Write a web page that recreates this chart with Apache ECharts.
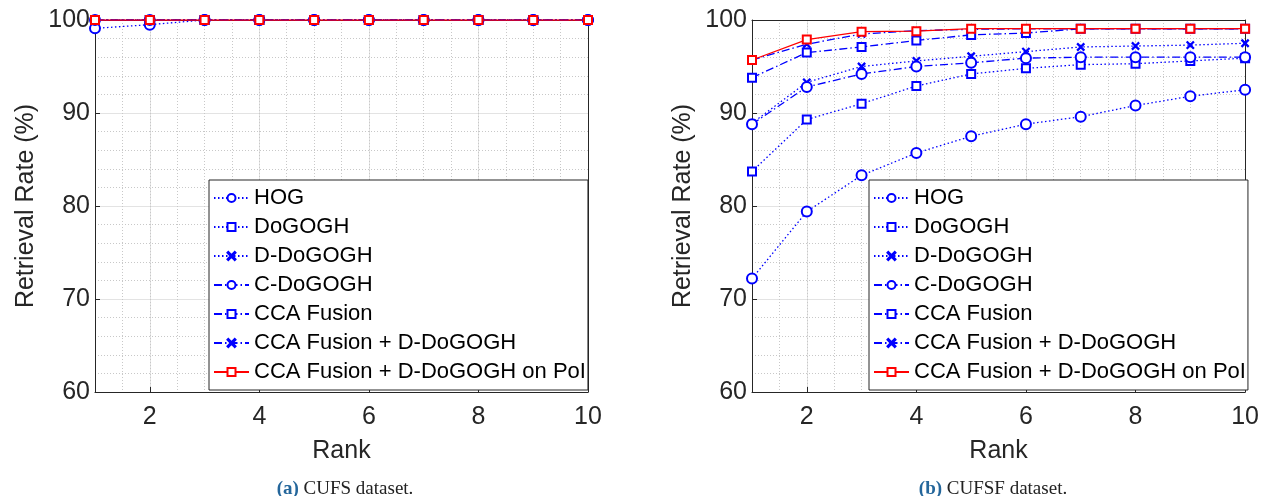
<!DOCTYPE html>
<html lang="en">
<head>
    <meta charset="UTF-8">
    <title>Retrieval rate vs rank</title>
    <script src="https://cdn.jsdelivr.net/npm/echarts@6/dist/echarts.min.js"></script>
    <style>
        html, body { margin: 0; padding: 0; background: #fff; }
    </style>
</head>
<body>

<div id="wrap" style="width: 1262px; height: 496px;"></div>

<script>
    var ranks = [1, 2, 3, 4, 5, 6, 7, 8, 9, 10];
    var names = ['HOG', 'DoGOGH', 'D-DoGOGH', 'C-DoGOGH', 'CCA Fusion',
        'CCA Fusion + D-DoGOGH', 'CCA Fusion + D-DoGOGH on PoI'];

    // (a) CUFS
    var cufsHog      = [99.1, 99.5, 100, 100, 100, 100, 100, 100, 100, 100];
    var cufsDogogh   = [100, 100, 100, 100, 100, 100, 100, 100, 100, 100];
    var cufsDDogogh  = [100, 100, 100, 100, 100, 100, 100, 100, 100, 100];
    var cufsCDogogh  = [100, 100, 100, 100, 100, 100, 100, 100, 100, 100];
    var cufsCca      = [100, 100, 100, 100, 100, 100, 100, 100, 100, 100];
    var cufsCcaD     = [100, 100, 100, 100, 100, 100, 100, 100, 100, 100];
    var cufsCcaDPoi  = [100, 100, 100, 100, 100, 100, 100, 100, 100, 100];

    // (b) CUFSF
    var cufsfHog     = [72.2, 79.4, 83.3, 85.7, 87.5, 88.8, 89.6, 90.8, 91.8, 92.5];
    var cufsfDogogh  = [83.7, 89.3, 91.0, 92.9, 94.2, 94.8, 95.2, 95.3, 95.6, 95.9];
    var cufsfDDogogh = [88.9, 93.3, 95.0, 95.6, 96.1, 96.6, 97.1, 97.2, 97.3, 97.5];
    var cufsfCDogogh = [88.8, 92.8, 94.2, 95.0, 95.4, 95.9, 96.0, 96.0, 96.0, 96.0];
    var cufsfCca     = [93.8, 96.5, 97.1, 97.8, 98.4, 98.6, 99.05, 99.05, 99.05, 99.05];
    var cufsfCcaD    = [95.7, 97.4, 98.5, 98.85, 99.0, 99.05, 99.05, 99.05, 99.05, 99.05];
    var cufsfCcaDPoi = [95.7, 97.9, 98.75, 98.8, 99.07, 99.07, 99.07, 99.07, 99.07, 99.07];

    var yTicks = [60, 70, 80, 90, 100];

    var BLUE = '#0000ff';
    var RED = '#ff0000';
    var INK = '#262626';
    var crossPath = 'path://M0,1L1,0L5,4L9,0L10,1L6,5L10,9L9,10L5,6L1,10L0,9L4,5Z';
    var dotted = [1.5, 2.5];
    var dashDot = [8, 3, 1.5, 3];

    var styles = [
        {color: BLUE, dash: dotted, symbol: 'emptyCircle', size: 10},
        {color: BLUE, dash: dotted, symbol: 'emptyRect', size: 8},
        {color: BLUE, dash: dotted, symbol: crossPath, size: 7},
        {color: BLUE, dash: dashDot, symbol: 'emptyCircle', size: 10},
        {color: BLUE, dash: dashDot, symbol: 'emptyRect', size: 8},
        {color: BLUE, dash: dashDot, symbol: crossPath, size: 7},
        {color: RED, dash: 'solid', symbol: 'emptyRect', size: 8}
    ];

    function pairs(vals) {
        return ranks.map(function (r, i) { return [r, vals[i]]; });
    }

    function makeSeries(sets, idx) {
        return sets.map(function (vals, k) {
            var s = styles[k];
            return {
                name: names[k],
                type: 'line',
                xAxisIndex: idx * 2,
                yAxisIndex: idx * 2,
                data: pairs(vals),
                symbol: s.symbol,
                symbolSize: s.size,
                showAllSymbol: true,
                lineStyle: {color: s.color, width: 1.3, type: s.dash},
                itemStyle: {color: s.color, borderColor: s.color, borderWidth: 1.3},
                z: 3 + k
            };
        });
    }

    function xAxes(gi) {
        return [{
            gridIndex: gi,
            type: 'value',
            min: 1,
            max: 10,
            splitNumber: 5,
            position: 'bottom',
            name: 'Rank',
            nameLocation: 'middle',
            nameGap: 47,
            nameTextStyle: {fontSize: 25, color: INK, fontFamily: 'Liberation Sans'},
            axisLine: {show: true, lineStyle: {color: INK, width: 1}},
            axisTick: {show: true, inside: true, length: 5, lineStyle: {color: INK}},
            axisLabel: {
                fontSize: 25, color: INK, fontFamily: 'Liberation Sans', margin: 13,
                showMinLabel: false,
                formatter: function (v) { return v % 2 === 0 ? String(v) : ''; }
            },
            splitLine: {show: true, lineStyle: {color: '#e3e3e3', width: 1}}
        }, {
            gridIndex: gi,
            type: 'value',
            min: 1,
            max: 10,
            interval: 0.5,
            position: 'top',
            axisLine: {show: true, lineStyle: {color: INK, width: 1}},
            axisTick: {show: false},
            axisLabel: {show: false},
            splitLine: {show: true, lineStyle: {color: '#c8c8c8', width: 1, type: [1, 2]}}
        }];
    }

    function yAxes(gi) {
        return [{
            gridIndex: gi,
            type: 'value',
            min: yTicks[0],
            max: yTicks[yTicks.length - 1],
            interval: 10,
            position: 'left',
            name: 'Retrieval Rate (%)',
            nameLocation: 'middle',
            nameGap: 56,
            nameTextStyle: {fontSize: 25, color: INK, fontFamily: 'Liberation Sans'},
            axisLine: {show: true, lineStyle: {color: INK, width: 1}},
            axisTick: {show: true, inside: true, length: 5, lineStyle: {color: INK}},
            axisLabel: {fontSize: 25, color: INK, fontFamily: 'Liberation Sans', margin: 5},
            splitLine: {show: true, lineStyle: {color: '#e3e3e3', width: 1}},
            minorTick: {show: false, splitNumber: 5},
            minorSplitLine: {show: true, lineStyle: {color: '#c8c8c8', width: 1, type: [1, 2]}}
        }, {
            gridIndex: gi,
            type: 'value',
            min: yTicks[0],
            max: yTicks[yTicks.length - 1],
            interval: 10,
            position: 'right',
            axisLine: {show: true, lineStyle: {color: INK, width: 1}},
            axisTick: {show: false},
            axisLabel: {show: false},
            splitLine: {show: false}
        }];
    }

    function legendAt(left) {
        return {
            left: left,
            top: 180,
            orient: 'vertical',
            data: names,
            selectedMode: false,
            backgroundColor: '#fff',
            borderColor: INK,
            borderWidth: 1,
            borderRadius: 0,
            padding: [7, 2, 7, 4],
            itemWidth: 35,
            itemHeight: 10,
            itemGap: 7,
            textStyle: {fontSize: 22, lineHeight: 22, color: '#000', fontFamily: 'Liberation Sans'}
        };
    }

    var chart = echarts.init(document.getElementById('wrap'));

    var option = {
        animation: false,
        backgroundColor: '#fff',
        grid: [
            {left: 95, right: 674, top: 20, bottom: 104},
            {left: 752, right: 14, top: 20, bottom: 104}
        ],
        xAxis: xAxes(0).concat(xAxes(1)),
        yAxis: yAxes(0).concat(yAxes(1)),
        legend: [legendAt(209), legendAt(869)],
        title: [{
            text: '{b|(a)} CUFS dataset.',
            left: 340,
            top: 475,
            textAlign: 'center',
            textStyle: {
                fontSize: 19, fontWeight: 'normal', color: '#222', fontFamily: 'Liberation Serif',
                rich: {b: {fontSize: 19, fontWeight: 'bold', color: '#24669b', fontFamily: 'Liberation Serif'}}
            }
        }, {
            text: '{b|(b)} CUFSF dataset.',
            left: 988,
            top: 475,
            textAlign: 'center',
            textStyle: {
                fontSize: 19, fontWeight: 'normal', color: '#222', fontFamily: 'Liberation Serif',
                rich: {b: {fontSize: 19, fontWeight: 'bold', color: '#24669b', fontFamily: 'Liberation Serif'}}
            }
        }],
        series: makeSeries([cufsHog, cufsDogogh, cufsDDogogh, cufsCDogogh, cufsCca, cufsCcaD, cufsCcaDPoi], 0)
            .concat(makeSeries([cufsfHog, cufsfDogogh, cufsfDDogogh, cufsfCDogogh, cufsfCca, cufsfCcaD, cufsfCcaDPoi], 1))
    };

    chart.setOption(option);
</script>
</body>
</html>
